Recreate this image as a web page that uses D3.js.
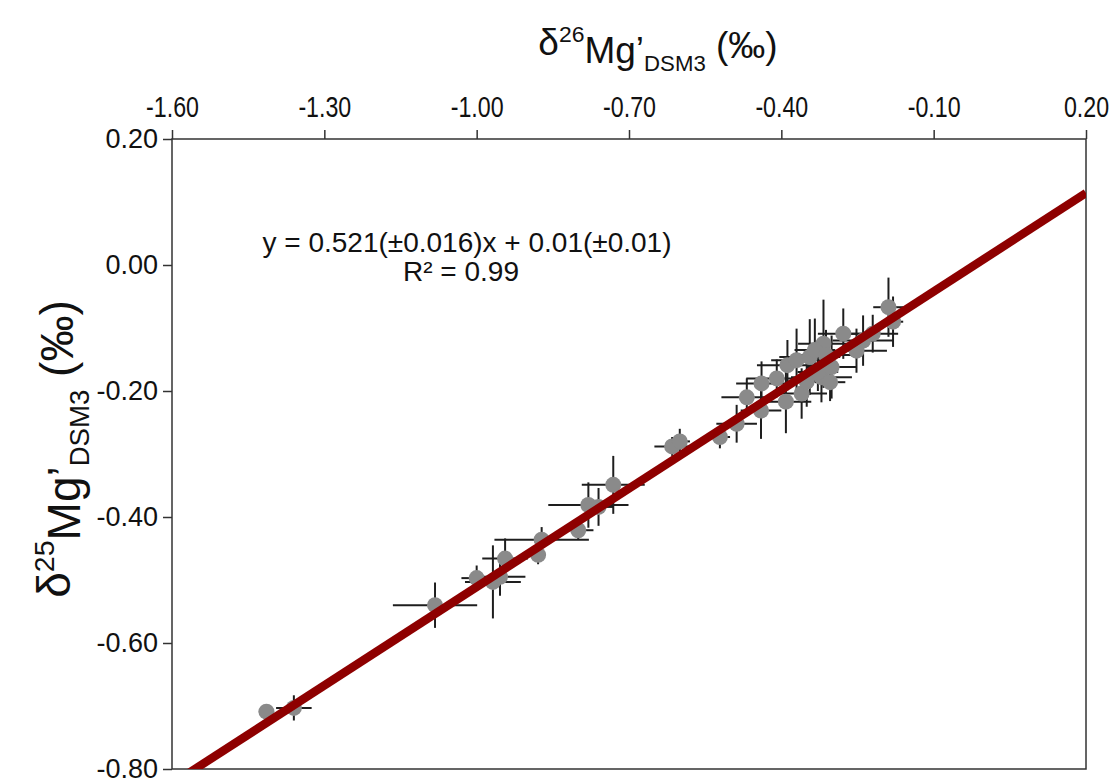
<!DOCTYPE html>
<html>
<head>
<meta charset="utf-8">
<script src="https://cdn.jsdelivr.net/npm/d3@7"></script>
<style>
  body { margin: 0; background: #fff; }
  text { font-family: "Liberation Sans", Arial, sans-serif; fill: #111; }
</style>
</head>
<body>
<div class="chart-box"></div>
<script>
// values (per mil)
const d26 = [-1.414, -1.360, -1.082, -1.000, -0.968, -0.954, -0.944, -0.872, -0.879, -0.800,
  -0.780, -0.760, -0.731, -0.615, -0.600, -0.521, -0.488, -0.468, -0.439, -0.440,
  -0.409, -0.391, -0.388, -0.370, -0.360, -0.344, -0.317, -0.321, -0.301, -0.278,
  -0.252, -0.239, -0.220, -0.189, -0.334, -0.312, -0.328, -0.304, -0.180, -0.350];
const d25 = [-0.709, -0.703, -0.540, -0.497, -0.503, -0.495, -0.466, -0.436, -0.460, -0.421,
  -0.381, -0.384, -0.349, -0.288, -0.280, -0.273, -0.252, -0.210, -0.188, -0.231,
  -0.180, -0.217, -0.159, -0.151, -0.204, -0.146, -0.125, -0.178, -0.162, -0.109,
  -0.136, -0.120, -0.109, -0.067, -0.135, -0.143, -0.170, -0.186, -0.090, -0.185];
const err26 = [0.015, 0.035, 0.083, 0.030, 0.055, 0.050, 0.045, 0.093, 0.015, 0.030,
  0.079, 0.030, 0.062, 0.035, 0.020, 0.020, 0.040, 0.050, 0.050, 0.040,
  0.060, 0.050, 0.060, 0.050, 0.050, 0.060, 0.050, 0.060, 0.050, 0.050,
  0.060, 0.060, 0.050, 0.030, 0.040, 0.050, 0.040, 0.030, 0.020, 0.040];
const err25 = [0.008, 0.020, 0.036, 0.020, 0.058, 0.030, 0.032, 0.020, 0.015, 0.015,
  0.036, 0.030, 0.046, 0.015, 0.020, 0.018, 0.030, 0.030, 0.035, 0.045,
  0.030, 0.050, 0.040, 0.050, 0.040, 0.060, 0.070, 0.040, 0.050, 0.040,
  0.035, 0.040, 0.030, 0.047, 0.050, 0.040, 0.030, 0.030, 0.040, 0.040];

const xTicks = [-1.60, -1.30, -1.00, -0.70, -0.40, -0.10, 0.20];
const yTicks = [0.20, 0.00, -0.20, -0.40, -0.60, -0.80];

// regression: y = slope * x + intercept
const slope = 0.521, intercept = 0.01;
const fitLabel = ["y = 0.521(\u00b10.016)x + 0.01(\u00b10.01)", "R\u00b2 = 0.99"];

const points = d26.map((v, i) => ({x: v, y: d25[i], ex: err26[i], ey: err25[i]}));

const width = 1117, height = 780;
const margin = {top: 139, right: 31, bottom: 11, left: 172};

const svg = d3.select(".chart-box")
  .append("svg")
  .attr("width", width)
  .attr("height", height);

const x = d3.scaleLinear().domain([-1.6, 0.2]).range([margin.left, width - margin.right]);
const y = d3.scaleLinear().domain([-0.8, 0.2]).range([height - margin.bottom, margin.top]);

const fmt = d => d3.format(".2f")(d).replace("\u2212", "-");

// top axis
const xAxis = svg.append("g")
  .attr("transform", "translate(0," + margin.top + ")")
  .call(d3.axisTop(x).tickValues(xTicks).tickSize(9).tickPadding(13).tickFormat(fmt));
xAxis.selectAll("text")
  .attr("font-size", 29)
  .attr("transform", "scale(0.8,1)");

const yAxis = svg.append("g")
  .attr("transform", "translate(" + margin.left + ",0)")
  .call(d3.axisLeft(y).tickValues(yTicks).tickSize(9).tickPadding(5).tickFormat(fmt));
yAxis.selectAll("text").attr("font-size", 27);

svg.selectAll(".domain").remove();
svg.selectAll(".tick line").attr("stroke", "#333").attr("stroke-width", 1.5);

// frame
svg.append("rect")
  .attr("x", x(-1.6)).attr("y", y(0.2))
  .attr("width", x(0.2) - x(-1.6)).attr("height", y(-0.8) - y(0.2))
  .attr("fill", "none").attr("stroke", "#333").attr("stroke-width", 1.5);

svg.append("defs").append("clipPath").attr("id", "plot-clip")
  .append("rect")
  .attr("x", x(-1.6)).attr("y", y(0.2))
  .attr("width", x(0.2) - x(-1.6)).attr("height", y(-0.8) - y(0.2));

const plot = svg.append("g").attr("clip-path", "url(#plot-clip)");

// error bars
plot.selectAll(".xerr").data(points).enter().append("line")
  .attr("class", "xerr")
  .attr("x1", d => x(d.x - d.ex)).attr("x2", d => x(d.x + d.ex))
  .attr("y1", d => y(d.y)).attr("y2", d => y(d.y))
  .attr("stroke", "#1e1e1e").attr("stroke-width", 2);

plot.selectAll(".yerr").data(points).enter().append("line")
  .attr("class", "yerr")
  .attr("x1", d => x(d.x)).attr("x2", d => x(d.x))
  .attr("y1", d => y(d.y - d.ey)).attr("y2", d => y(d.y + d.ey))
  .attr("stroke", "#1e1e1e").attr("stroke-width", 2);

plot.selectAll(".dot").data(points).enter().append("circle")
  .attr("class", "dot")
  .attr("cx", d => x(d.x)).attr("cy", d => y(d.y))
  .attr("r", 8)
  .attr("fill", "#8a8a8a");

// regression line
const lineX = x.domain();
plot.append("line")
  .attr("x1", x(lineX[0])).attr("y1", y(slope * lineX[0] + intercept))
  .attr("x2", x(lineX[1])).attr("y2", y(slope * lineX[1] + intercept))
  .attr("stroke", "#8e0000").attr("stroke-width", 8.5);

// equation
svg.append("text")
  .attr("x", 467).attr("y", 252)
  .attr("text-anchor", "middle").attr("font-size", 28)
  .text(fitLabel[0]);
svg.append("text")
  .attr("x", 461).attr("y", 281)
  .attr("text-anchor", "middle").attr("font-size", 28)
  .text(fitLabel[1]);

// axis titles
function title(g, mass) {
  g.append("tspan").text("\u03b4");
  g.append("tspan").attr("font-size", "0.62em").attr("dy", "-0.55em").text(mass);
  g.append("tspan").attr("dy", "0.55em").text("Mg\u2019");
  g.append("tspan").attr("font-size", "0.6em").attr("dy", "0.35em").text("DSM3");
  g.append("tspan").attr("dy", "-0.35em").text(" (\u2030)");
}

const topTitle = svg.append("text")
  .attr("transform", "translate(658,55)")
  .attr("text-anchor", "middle").attr("font-size", 37);
title(topTitle, "26");

const leftTitle = svg.append("text")
  .attr("transform", "translate(70,449) rotate(-90)")
  .attr("text-anchor", "middle").attr("font-size", 46);
title(leftTitle, "25");
</script>
</body>
</html>
